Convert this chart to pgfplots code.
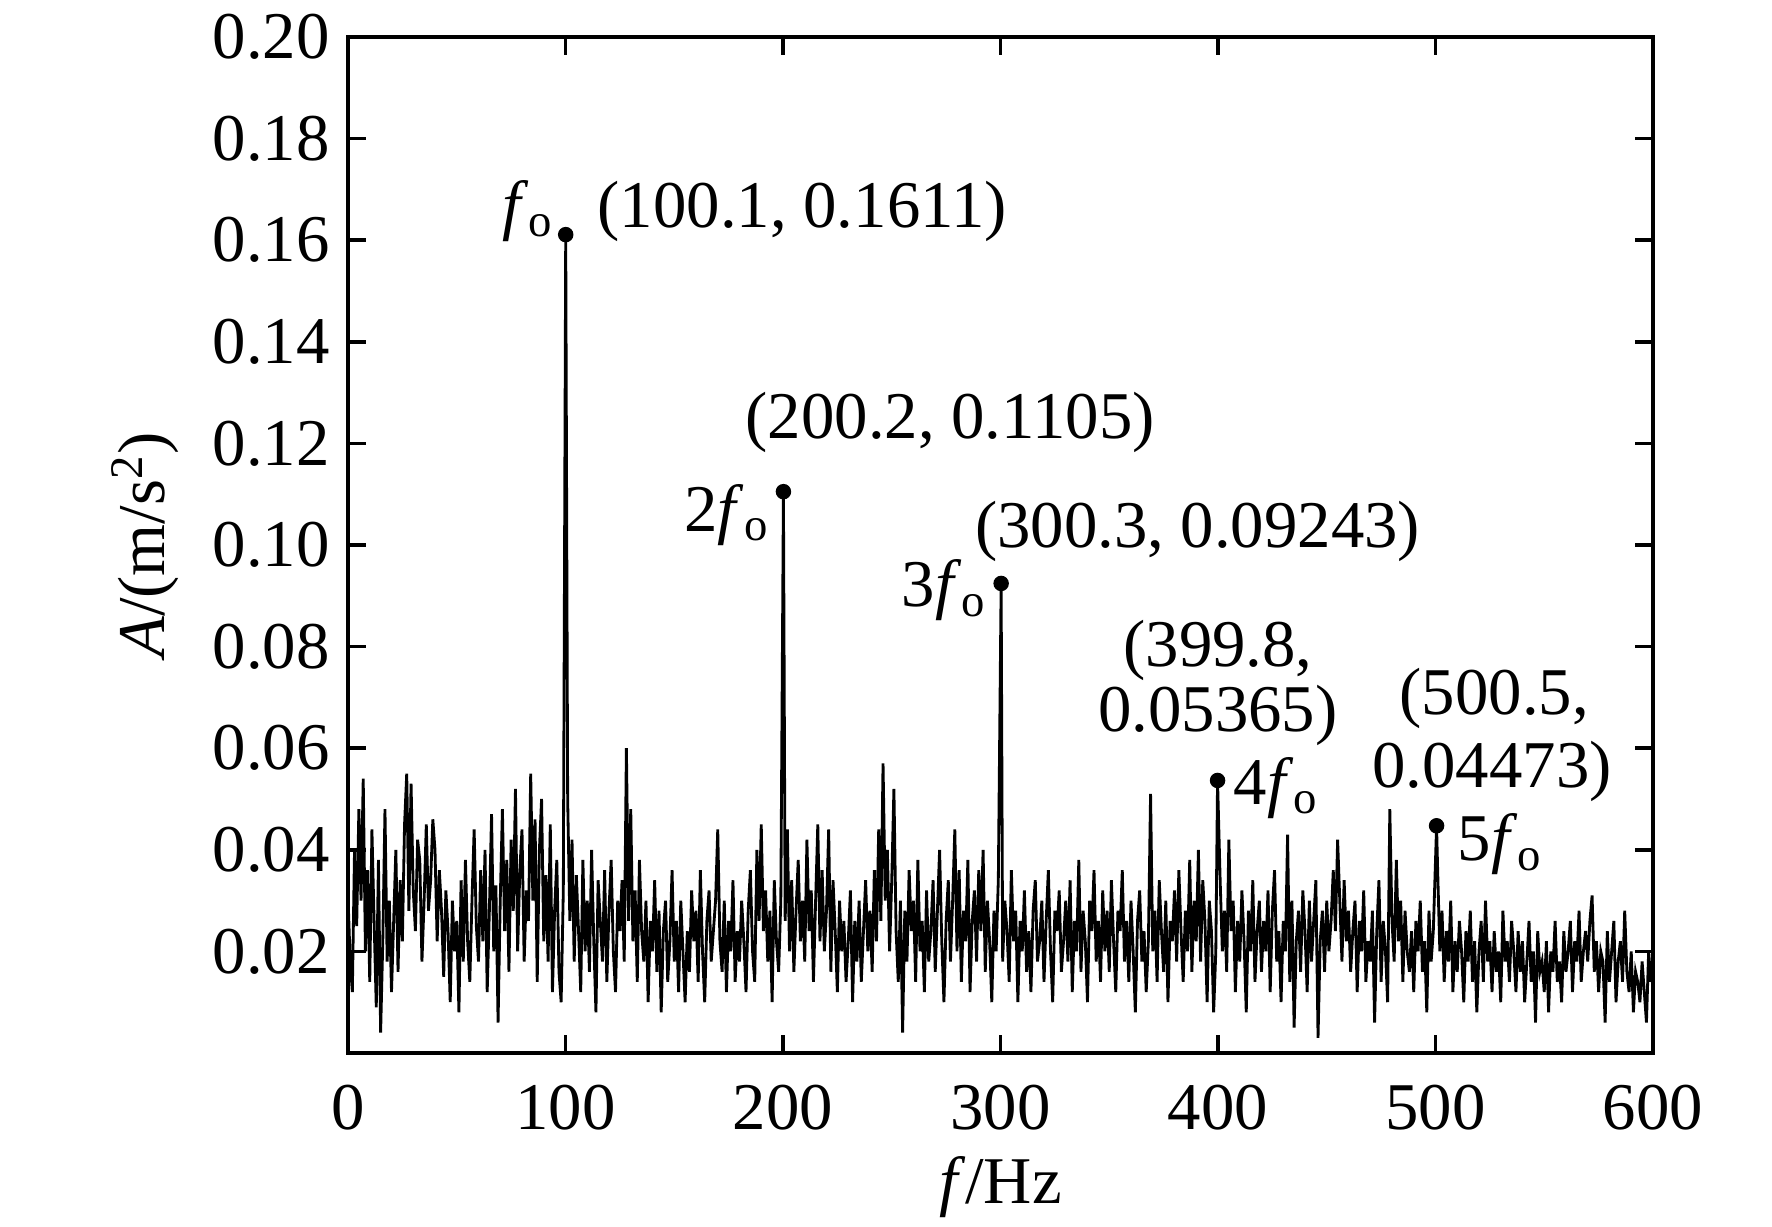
\documentclass[border=0pt]{standalone}
\usepackage{fontspec}
\setmainfont{Liberation Serif}
\usepackage{pgfplots}
\pgfplotsset{compat=1.18}
\begin{document}
\begin{tikzpicture}[font=\fontsize{19}{23}\selectfont, lbl/.style={inner sep=0pt}]
\begin{axis}[
  scale only axis, width=130.5mm, height=101.6mm,
  xmin=0, xmax=600, ymin=0, ymax=0.2,
  xtick={0,100,...,600},
  ytick={0.02,0.04,...,0.2},
  yticklabel style={xshift=-0.6mm,/pgf/number format/.cd,fixed,fixed zerofill,precision=2},
  xticklabel style={yshift=-2mm},
  /pgf/number format/assume math mode=true,
  tick align=inside, tick pos=both,
  major tick length=1.8mm,
  axis line style={line width=1pt},
  every tick/.style={black,line width=1pt},
  clip=false,
]
\addplot[black, line width=0.8pt] coordinates {
(0,.031)(1,.018)(2,.012)(3,.040)(4,.025)(5,.048)(6,.030)(7,.054)(8,.020)(9,.036)
(10,.014)(11,.044)(12,.026)(13,.009)(14,.038)(15,.004)(16,.022)(17,.048)(18,.018)(19,.030)
(20,.012)(21,.026)(22,.040)(23,.016)(24,.034)(25,.022)(26,.045)(27,.055)(28,.028)(29,.053)
(30,.032)(31,.024)(32,.042)(33,.038)(34,.018)(35,.030)(36,.045)(37,.028)(38,.034)(39,.046)
(40,.040)(41,.022)(42,.036)(43,.028)(44,.015)(45,.032)(46,.024)(47,.010)(48,.030)(49,.020)
(50,.026)(51,.008)(52,.034)(53,.018)(54,.038)(55,.022)(56,.014)(57,.030)(58,.044)(59,.025)
(60,.018)(61,.036)(62,.022)(63,.040)(64,.012)(65,.028)(66,.047)(67,.020)(68,.033)(69,.006)
(70,.030)(71,.048)(72,.024)(73,.038)(74,.016)(75,.042)(76,.028)(77,.052)(78,.020)(79,.036)
(80,.044)(81,.018)(82,.032)(83,.026)(84,.055)(85,.030)(86,.046)(87,.014)(88,.040)(89,.050)
(90,.022)(91,.035)(92,.018)(93,.045)(94,.012)(95,.028)(96,.038)(97,.016)(98,.010)(99,.032)
(100.1,.1611)
(101,.050)(102,.026)(103,.042)(104,.018)(105,.035)(106,.024)(107,.012)(108,.038)(109,.020)
(110,.030)(111,.016)(112,.040)(113,.022)(114,.008)(115,.034)(116,.026)(117,.018)(118,.036)(119,.014)
(120,.028)(121,.038)(122,.020)(123,.012)(124,.030)(125,.024)(126,.034)(127,.018)(128,.060)(129,.026)
(130,.048)(131,.022)(132,.032)(133,.014)(134,.038)(135,.024)(136,.018)(137,.030)(138,.010)(139,.026)
(140,.020)(141,.034)(142,.016)(143,.028)(144,.008)(145,.024)(146,.030)(147,.014)(148,.022)(149,.036)
(150,.018)(151,.026)(152,.012)(153,.030)(154,.020)(155,.010)(156,.024)(157,.016)(158,.032)(159,.022)
(160,.028)(161,.014)(162,.036)(163,.020)(164,.010)(165,.026)(166,.032)(167,.018)(168,.024)(169,.030)
(170,.044)(171,.022)(172,.016)(173,.030)(174,.012)(175,.026)(176,.020)(177,.034)(178,.014)(179,.024)
(180,.018)(181,.030)(182,.022)(183,.012)(184,.028)(185,.036)(186,.020)(187,.014)(188,.040)(189,.026)
(190,.045)(191,.024)(192,.032)(193,.018)(194,.028)(195,.010)(196,.034)(197,.022)(198,.016)(199,.030)
(200.2,.1105)
(201,.026)(202,.044)(203,.020)(204,.034)(205,.016)(206,.028)(207,.038)(208,.022)(209,.030)
(210,.018)(211,.042)(212,.024)(213,.032)(214,.014)(215,.030)(216,.045)(217,.022)(218,.036)(219,.020)
(220,.028)(221,.044)(222,.016)(223,.034)(224,.024)(225,.012)(226,.030)(227,.020)(228,.026)(229,.014)
(230,.022)(231,.032)(232,.010)(233,.026)(234,.018)(235,.030)(236,.014)(237,.024)(238,.034)(239,.020)
(240,.028)(241,.016)(242,.036)(243,.022)(244,.044)(245,.026)(246,.057)(247,.030)(248,.040)(249,.020)
(250,.034)(251,.052)(252,.024)(253,.014)(254,.030)(255,.004)(256,.028)(257,.018)(258,.036)(259,.024)
(260,.030)(261,.014)(262,.038)(263,.020)(264,.026)(265,.012)(266,.032)(267,.018)(268,.024)(269,.034)
(270,.016)(271,.028)(272,.040)(273,.022)(274,.010)(275,.026)(276,.034)(277,.018)(278,.030)(279,.044)
(280,.020)(281,.036)(282,.014)(283,.028)(284,.022)(285,.038)(286,.012)(287,.026)(288,.032)(289,.018)
(290,.036)(291,.024)(292,.040)(293,.016)(294,.030)(295,.022)(296,.010)(297,.028)(298,.020)(299,.034)
(300.3,.09243)
(301,.018)(302,.030)(303,.024)(304,.014)(305,.036)(306,.022)(307,.028)(308,.010)(309,.026)
(310,.020)(311,.032)(312,.016)(313,.024)(314,.012)(315,.028)(316,.034)(317,.018)(318,.022)(319,.030)
(320,.014)(321,.026)(322,.036)(323,.020)(324,.010)(325,.028)(326,.024)(327,.032)(328,.016)(329,.022)
(330,.030)(331,.018)(332,.034)(333,.012)(334,.026)(335,.020)(336,.038)(337,.016)(338,.028)(339,.022)
(340,.010)(341,.030)(342,.024)(343,.036)(344,.018)(345,.026)(346,.014)(347,.032)(348,.020)(349,.028)
(350,.016)(351,.034)(352,.022)(353,.012)(354,.028)(355,.024)(356,.036)(357,.018)(358,.026)(359,.014)
(360,.030)(361,.020)(362,.008)(363,.026)(364,.032)(365,.018)(366,.024)(367,.012)(368,.022)(369,.051)
(370,.020)(371,.028)(372,.014)(373,.034)(374,.024)(375,.016)(376,.030)(377,.010)(378,.026)(379,.022)
(380,.032)(381,.018)(382,.036)(383,.024)(384,.014)(385,.028)(386,.020)(387,.038)(388,.016)(389,.030)
(390,.022)(391,.040)(392,.018)(393,.034)(394,.026)(395,.010)(396,.030)(397,.024)(398,.008)(399,.020)
(399.8,.05365)
(401,.034)(402,.020)(403,.028)(404,.016)(405,.042)(406,.024)(407,.030)(408,.012)(409,.026)
(410,.018)(411,.032)(412,.022)(413,.008)(414,.028)(415,.020)(416,.034)(417,.014)(418,.024)(419,.030)
(420,.016)(421,.026)(422,.020)(423,.032)(424,.012)(425,.028)(426,.036)(427,.018)(428,.024)(429,.010)
(430,.026)(431,.020)(432,.043)(433,.014)(434,.030)(435,.005)(436,.022)(437,.028)(438,.016)(439,.032)
(440,.024)(441,.012)(442,.030)(443,.018)(444,.026)(445,.034)(446,.003)(447,.022)(448,.028)(449,.016)
(450,.030)(451,.020)(452,.026)(453,.036)(454,.024)(455,.042)(456,.030)(457,.018)(458,.034)(459,.022)
(460,.028)(461,.016)(462,.024)(463,.030)(464,.012)(465,.026)(466,.020)(467,.032)(468,.014)(469,.022)
(470,.018)(471,.028)(472,.006)(473,.024)(474,.034)(475,.014)(476,.026)(477,.020)(478,.010)(479,.048)
(480,.026)(481,.018)(482,.038)(483,.022)(484,.030)(485,.014)(486,.028)(487,.020)(488,.016)(489,.024)
(490,.012)(491,.026)(492,.020)(493,.030)(494,.016)(495,.022)(496,.008)(497,.028)(498,.018)(499,.024)
(500.5,.04473)
(501,.036)(502,.020)(503,.028)(504,.014)(505,.024)(506,.018)(507,.030)(508,.012)(509,.022)
(510,.016)(511,.026)(512,.020)(513,.010)(514,.024)(515,.018)(516,.028)(517,.014)(518,.022)(519,.008)
(520,.020)(521,.026)(522,.014)(523,.030)(524,.018)(525,.022)(526,.012)(527,.024)(528,.016)(529,.020)
(530,.010)(531,.028)(532,.018)(533,.022)(534,.014)(535,.026)(536,.020)(537,.012)(538,.024)(539,.016)
(540,.022)(541,.010)(542,.018)(543,.026)(544,.014)(545,.020)(546,.006)(547,.024)(548,.016)(549,.018)
(550,.012)(551,.022)(552,.008)(553,.020)(554,.016)(555,.026)(556,.014)(557,.018)(558,.010)(559,.024)
(560,.016)(561,.020)(562,.026)(563,.012)(564,.022)(565,.018)(566,.028)(567,.014)(568,.020)(569,.024)
(570,.018)(571,.026)(572,.031)(573,.016)(574,.022)(575,.012)(576,.020)(577,.018)(578,.006)(579,.024)
(580,.014)(581,.020)(582,.026)(583,.010)(584,.018)(585,.022)(586,.014)(587,.028)(588,.016)(589,.012)
(590,.020)(591,.008)(592,.016)(593,.014)(594,.010)(595,.018)(596,.012)(597,.006)(598,.020)(599,.014)
(600,.018)
};
\addplot[only marks, mark=*, mark size=2pt, black] coordinates {
(100.1,.1611)(200.2,.1105)(300.3,.09243)(399.8,.05365)(500.5,.04473)
};
\node[lbl,anchor=base east] at (axis cs:95,0.1625) {\textit{f}\textsubscript{o}};
\node[lbl,anchor=base west] at (axis cs:114.5,0.1625) {(100.1, 0.1611)};
\node[lbl,anchor=base west] at (axis cs:182.5,0.121) {(200.2, 0.1105)};
\node[lbl,anchor=base east] at (axis cs:194,0.1027) {2\textit{f}\textsubscript{o}};
\node[lbl,anchor=base west] at (axis cs:288,0.0996) {(300.3, 0.09243)};
\node[lbl,anchor=base east] at (axis cs:294,0.0878) {3\textit{f}\textsubscript{o}};
\node[lbl,anchor=base] at (axis cs:400,0.076) {(399.8,};
\node[lbl,anchor=base] at (axis cs:400,0.0633) {0.05365)};
\node[lbl,anchor=base west] at (axis cs:407,0.0489) {4\textit{f}\textsubscript{o}};
\node[lbl,anchor=base] at (axis cs:527,0.0667) {(500.5,};
\node[lbl,anchor=base] at (axis cs:526,0.0522) {0.04473)};
\node[lbl,anchor=base west] at (axis cs:510,0.0378) {5\textit{f}\textsubscript{o}};
\end{axis}
\node[rotate=90] at (-20.3mm,50.8mm) {\textit{A}/(m/s\textsuperscript{2})};
\node[lbl] at (65.25mm,-13.4mm) {\textit{f}/Hz};
\pgfresetboundingbox
\path[use as bounding box] (-34.8mm,-17.3mm) rectangle (142.4mm,105.3mm);
\end{tikzpicture}
\end{document}
